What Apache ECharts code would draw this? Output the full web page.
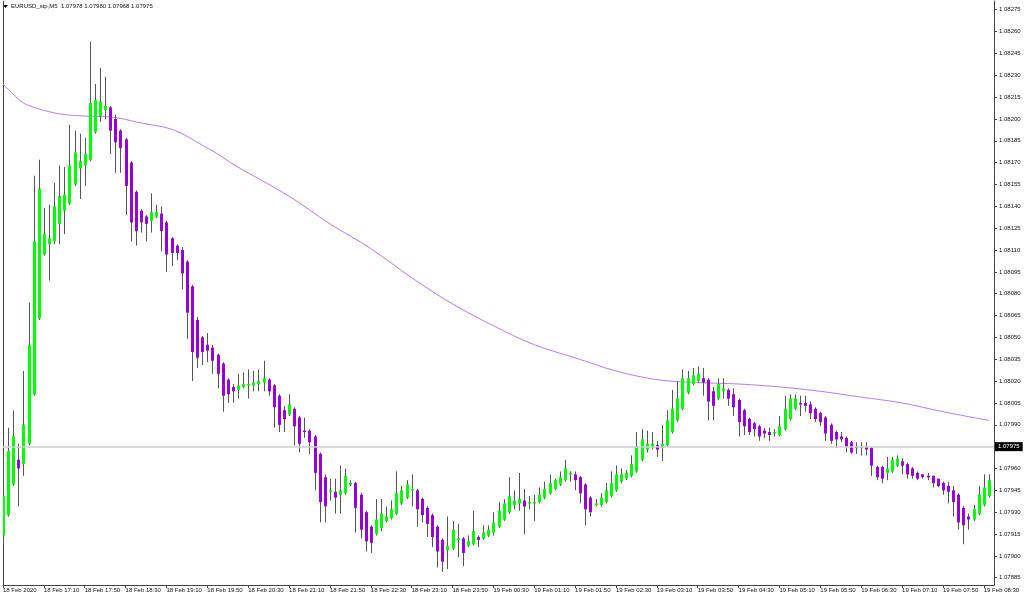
<!DOCTYPE html>
<html><head><meta charset="utf-8">
<script src="https://cdn.jsdelivr.net/npm/echarts@6/dist/echarts.min.js"></script>
<style>html,body{margin:0;padding:0;background:#fff}#c{width:1024px;height:600px}</style>
</head><body><div id="c"></div>
<script>
const headerText = 'EURUSD_stp,M5  1.07978 1.07980 1.07968 1.07975';
const currentPrice = 1.07975;

const timeLabels = ['18 Feb 2020','18 Feb 17:10','18 Feb 17:50','18 Feb 18:30','18 Feb 19:10','18 Feb 19:50','18 Feb 20:30','18 Feb 21:10','18 Feb 21:50','18 Feb 22:30','18 Feb 23:10','18 Feb 23:50','19 Feb 00:30','19 Feb 01:10','19 Feb 01:50','19 Feb 02:30','19 Feb 03:10','19 Feb 03:50','19 Feb 04:30','19 Feb 05:10','19 Feb 05:50','19 Feb 06:30','19 Feb 07:10','19 Feb 07:50','19 Feb 08:30'];

const priceTicks = [1.07885,1.07900,1.07915,1.07930,1.07945,1.07960,1.07975,1.07990,1.08005,1.08020,1.08035,1.08050,1.08065,1.08080,1.08095,1.08110,1.08125,1.08140,1.08155,1.08170,1.08185,1.08200,1.08215,1.08230,1.08245,1.08260,1.08275];

const opens = [1.07914,1.07928,1.07949,1.07966,1.07963,1.07977,1.08011,1.08063,1.08107,1.08114,
1.08116,1.08128,1.08137,1.08142,1.08155,1.08166,1.08168,1.08172,1.08191,1.08202,
1.08206,1.08208,1.08200,1.08192,1.08186,1.08170,1.08150,1.08137,1.08133,1.08130,
1.08133,1.08135,1.08129,1.08118,1.08113,1.08110,1.08102,1.08085,1.08062,1.08050,
1.08045,1.08043,1.08038,1.08032,1.08021,1.08016,1.08014,1.08016,1.08017,1.08017,
1.08018,1.08019,1.08021,1.08017,1.08010,1.08000,1.07997,1.08001,1.07995,1.07986,
1.07986,1.07982,1.07970,1.07954,1.07944,1.07944,1.07942,1.07943,1.07949,1.07950,
1.07942,1.07930,1.07920,1.07915,1.07919,1.07924,1.07926,1.07929,1.07936,1.07940,
1.07945,1.07945,1.07939,1.07933,1.07928,1.07920,1.07911,1.07904,1.07905,1.07911,
1.07912,1.07907,1.07908,1.07913,1.07912,1.07914,1.07916,1.07920,1.07925,1.07930,
1.07935,1.07936,1.07938,1.07936,1.07936,1.07937,1.07940,1.07943,1.07946,1.07949,
1.07952,1.07956,1.07956,1.07954,1.07949,1.07940,1.07935,1.07935,1.07937,1.07941,
1.07945,1.07951,1.07953,1.07955,1.07958,1.07966,1.07973,1.07974,1.07976,1.07974,
1.07976,1.07985,1.07993,1.08001,1.08012,1.08018,1.08020,1.08022,1.08021,1.08013,
1.08008,1.08013,1.08014,1.08011,1.08007,1.08000,1.07994,1.07991,1.07989,1.07986,
1.07985,1.07984,1.07983,1.07987,1.07994,1.08001,1.08005,1.08005,1.08004,1.08001,
1.07998,1.07995,1.07990,1.07985,1.07982,1.07981,1.07978,1.07975,1.07974,1.07975,
1.07974,1.07961,1.07961,1.07957,1.07958,1.07962,1.07965,1.07963,1.07960,1.07957,
1.07956,1.07955,1.07955,1.07953,1.07950,1.07948,1.07945,1.07942,1.07933,1.07927,
1.07925,1.07929,1.07935,1.07941];

const closes = [1.07941,1.07972,1.07982,1.07960,1.07990,1.08045,1.08116,1.08152,1.08121,1.08118,
1.08140,1.08147,1.08148,1.08168,1.08177,1.08171,1.08176,1.08211,1.08213,1.08212,
1.08209,1.08192,1.08184,1.08180,1.08154,1.08129,1.08123,1.08129,1.08128,1.08136,
1.08136,1.08123,1.08107,1.08108,1.08108,1.08094,1.08067,1.08040,1.08036,1.08040,
1.08041,1.08034,1.08025,1.08010,1.08011,1.08013,1.08017,1.08018,1.08018,1.08019,
1.08020,1.08022,1.08013,1.08002,1.07990,1.07994,1.08004,1.07989,1.07977,1.07985,
1.07978,1.07957,1.07937,1.07934,1.07945,1.07940,1.07945,1.07955,1.07950,1.07933,
1.07918,1.07910,1.07909,1.07925,1.07929,1.07927,1.07932,1.07943,1.07945,1.07949,
1.07946,1.07932,1.07928,1.07922,1.07913,1.07903,1.07896,1.07907,1.07918,1.07912,
1.07902,1.07910,1.07917,1.07911,1.07916,1.07918,1.07923,1.07931,1.07936,1.07941,
1.07938,1.07939,1.07934,1.07937,1.07937,1.07942,1.07946,1.07950,1.07952,1.07954,
1.07960,1.07957,1.07952,1.07943,1.07932,1.07930,1.07936,1.07940,1.07945,1.07950,
1.07956,1.07956,1.07957,1.07963,1.07975,1.07980,1.07977,1.07977,1.07973,1.07977,
1.07993,1.08001,1.08008,1.08022,1.08022,1.08024,1.08025,1.08019,1.08006,1.08003,
1.08018,1.08015,1.08008,1.08002,1.07992,1.07989,1.07985,1.07987,1.07982,1.07984,
1.07983,1.07985,1.07989,1.08001,1.08008,1.08008,1.08004,1.08003,1.07998,1.07994,
1.07992,1.07984,1.07979,1.07980,1.07980,1.07975,1.07971,1.07974,1.07975,1.07973,
1.07962,1.07954,1.07953,1.07960,1.07966,1.07967,1.07962,1.07956,1.07955,1.07953,
1.07954,1.07954,1.07950,1.07948,1.07945,1.07944,1.07937,1.07923,1.07921,1.07925,
1.07932,1.07942,1.07947,1.07952];

const highs = [1.07968,1.07988,1.08000,1.07977,1.08027,1.08074,1.08161,1.08172,1.08139,1.08141,
1.08156,1.08168,1.08167,1.08196,1.08192,1.08190,1.08187,1.08253,1.08224,1.08235,
1.08229,1.08209,1.08203,1.08193,1.08187,1.08171,1.08151,1.08138,1.08134,1.08149,
1.08141,1.08140,1.08130,1.08119,1.08114,1.08112,1.08103,1.08086,1.08064,1.08051,
1.08053,1.08045,1.08039,1.08033,1.08022,1.08018,1.08025,1.08026,1.08028,1.08027,
1.08028,1.08034,1.08022,1.08018,1.08011,1.08003,1.08011,1.08002,1.07996,1.07995,
1.07987,1.07983,1.07971,1.07956,1.07953,1.07953,1.07962,1.07960,1.07952,1.07951,
1.07943,1.07931,1.07921,1.07939,1.07939,1.07934,1.07938,1.07958,1.07948,1.07952,
1.07956,1.07946,1.07940,1.07934,1.07929,1.07921,1.07912,1.07927,1.07924,1.07922,
1.07913,1.07914,1.07931,1.07914,1.07921,1.07921,1.07930,1.07937,1.07939,1.07954,
1.07945,1.07957,1.07946,1.07941,1.07942,1.07947,1.07951,1.07956,1.07953,1.07958,
1.07966,1.07958,1.07958,1.07955,1.07950,1.07941,1.07939,1.07943,1.07950,1.07958,
1.07962,1.07960,1.07959,1.07969,1.07985,1.07987,1.07986,1.07985,1.07979,1.07990,
1.08000,1.08014,1.08020,1.08028,1.08027,1.08029,1.08030,1.08029,1.08022,1.08016,
1.08022,1.08022,1.08015,1.08015,1.08008,1.08001,1.07995,1.07992,1.07990,1.07988,
1.07988,1.07987,1.07996,1.08010,1.08011,1.08011,1.08010,1.08010,1.08006,1.08002,
1.07999,1.07996,1.07991,1.07986,1.07985,1.07982,1.07979,1.07978,1.07978,1.07978,
1.07975,1.07962,1.07962,1.07968,1.07968,1.07969,1.07967,1.07964,1.07961,1.07958,
1.07956,1.07957,1.07955,1.07953,1.07951,1.07951,1.07948,1.07943,1.07934,1.07929,
1.07935,1.07948,1.07956,1.07956];

const lows = [1.07908,1.07927,1.07948,1.07934,1.07955,1.07976,1.08010,1.08062,1.08106,1.08089,
1.08114,1.08114,1.08121,1.08141,1.08154,1.08145,1.08154,1.08171,1.08190,1.08198,
1.08200,1.08176,1.08163,1.08163,1.08134,1.08116,1.08113,1.08122,1.08116,1.08122,
1.08132,1.08109,1.08095,1.08099,1.08103,1.08083,1.08049,1.08020,1.08029,1.08031,
1.08033,1.08025,1.08015,1.07999,1.08005,1.08005,1.08008,1.08015,1.08008,1.08013,
1.08013,1.08013,1.08010,1.07988,1.07985,1.07985,1.07996,1.07976,1.07971,1.07981,
1.07970,1.07945,1.07923,1.07923,1.07938,1.07929,1.07929,1.07942,1.07948,1.07916,
1.07912,1.07903,1.07902,1.07914,1.07917,1.07923,1.07925,1.07928,1.07935,1.07939,
1.07934,1.07920,1.07923,1.07913,1.07906,1.07892,1.07889,1.07891,1.07904,1.07899,
1.07893,1.07906,1.07907,1.07906,1.07911,1.07913,1.07914,1.07919,1.07924,1.07929,
1.07932,1.07931,1.07915,1.07932,1.07924,1.07936,1.07939,1.07942,1.07945,1.07948,
1.07951,1.07951,1.07945,1.07936,1.07921,1.07927,1.07934,1.07934,1.07936,1.07940,
1.07944,1.07950,1.07952,1.07954,1.07957,1.07965,1.07971,1.07973,1.07968,1.07965,
1.07975,1.07984,1.07992,1.08000,1.08011,1.08017,1.08019,1.08010,1.07993,1.07993,
1.08007,1.08008,1.08003,1.07996,1.07982,1.07983,1.07983,1.07982,1.07979,1.07981,
1.07979,1.07982,1.07982,1.07986,1.07993,1.08000,1.07996,1.07999,1.07994,1.07992,
1.07989,1.07979,1.07977,1.07974,1.07978,1.07971,1.07970,1.07970,1.07969,1.07969,
1.07955,1.07952,1.07950,1.07952,1.07957,1.07961,1.07956,1.07953,1.07953,1.07952,
1.07953,1.07952,1.07947,1.07947,1.07942,1.07936,1.07927,1.07918,1.07908,1.07918,
1.07924,1.07928,1.07934,1.07940];

const maIndex  = [0,2,4,6,9,12,16,22,26,29,32,35,39,42,45,48,56,64,72,80,88,96,104,112,120,128,136,144,152,160,168,176,184,193];
const maValues = [1.08224,1.08217,1.08211,1.08208,1.08205,1.08203,1.08202,1.08201,1.08198,1.08196,1.08194,1.08190,1.08182,1.08176,1.08169,1.08163,1.08147,1.08128,1.08111,1.08091,1.08073,1.08058,1.08045,1.08036,1.08027,1.08021,1.08019,1.08018,1.08016,1.08013,1.08009,1.08005,1.07999,1.07993];

const slotCount = opens.length + 1;
const categories = [];
for (let i = 0; i < slotCount; i++) categories.push(String(i));

const FONT = 'Liberation Sans, Arial, sans-serif';
const chart = echarts.init(document.getElementById('c'), null, {renderer: 'canvas'});
chart.setOption({
  animation: false,
  backgroundColor: '#ffffff',
  title: {
    text: headerText, left: 11, top: 3, padding: 0,
    textStyle: {fontSize: 6, fontWeight: 'normal', color: '#111', fontFamily: FONT}
  },
  graphic: [{type: 'polygon', shape: {points: [[3,5],[8,5],[5.5,8]]}, style: {fill: '#000'}}],
  grid: {left: 2, right: 30, top: 1, bottom: 15},
  xAxis: {
    type: 'category', data: categories, boundaryGap: false,
    axisLine: {show: true, lineStyle: {color: '#444', width: 1}},
    axisTick: {show: true, interval: 7, length: 3, lineStyle: {color: '#444'}},
    axisLabel: {
      interval: 7, align: 'left', margin: 2, fontSize: 6, color: '#111', fontFamily: FONT,
      formatter: (v) => { const k = +v; return k % 8 === 0 && timeLabels[k / 8] ? timeLabels[k / 8] : ''; }
    },
    splitLine: {show: false}
  },
  yAxis: [{
    type: 'value', position: 'right', min: 1.07880, max: 1.08281, scale: true,
    axisLine: {show: true, lineStyle: {color: '#444', width: 1}},
    axisTick: {show: true, length: 3, customValues: priceTicks, lineStyle: {color: '#444'}},
    axisLabel: {customValues: priceTicks, margin: 5, fontSize: 6, color: '#111', fontFamily: FONT,
      formatter: (v) => v.toFixed(5)},
    splitLine: {show: false}
  }, {
    type: 'value', position: 'left', min: 1.07880, max: 1.08281,
    axisLine: {show: true, lineStyle: {color: '#444', width: 1}},
    axisTick: {show: false}, axisLabel: {show: false}, splitLine: {show: false}
  }],
  series: [{
    type: 'line',
    data: maIndex.map((k, j) => [k, maValues[j]]),
    showSymbol: false, smooth: 0.35,
    lineStyle: {color: '#b77ee8', width: 1},
    z: 1,
    markLine: {
      silent: true, symbol: ['none', 'none'], precision: 5,
      lineStyle: {color: '#cfcfcf', width: 1.5, type: 'solid'},
      label: {show: true, position: 'end', distance: 1, formatter: () => currentPrice.toFixed(5),
        backgroundColor: '#000', color: '#fff', fontSize: 6, fontFamily: FONT, padding: [2, 3, 1, 3]},
      data: [{yAxis: currentPrice}]
    }
  }, {
    type: 'custom',
    z: 3,
    clip: true,
    data: opens.map((o, i) => [i, o, closes[i], lows[i], highs[i]]),
    encode: {x: 0, y: [1, 2, 3, 4]},
    renderItem: function (params, api) {
      const i = api.value(0), o = api.value(1), c = api.value(2), l = api.value(3), h = api.value(4);
      const pO = api.coord([i, o]), pC = api.coord([i, c]), pL = api.coord([i, l]), pH = api.coord([i, h]);
      const x = Math.round(pO[0]);
      const up = c >= o;
      const top = Math.min(pO[1], pC[1]);
      const hgt = Math.max(Math.abs(pO[1] - pC[1]), 1.5);
      return {type: 'group', children: [
        {type: 'line', shape: {x1: x + 0.5, y1: pH[1], x2: x + 0.5, y2: pL[1]}, style: {stroke: '#555', lineWidth: 1}},
        {type: 'rect', shape: {x: x - 1, y: top, width: 3, height: hgt}, style: {fill: up ? '#00ff00' : '#9400d3'}}
      ]};
    }
  }]
});
</script>
</body></html>
